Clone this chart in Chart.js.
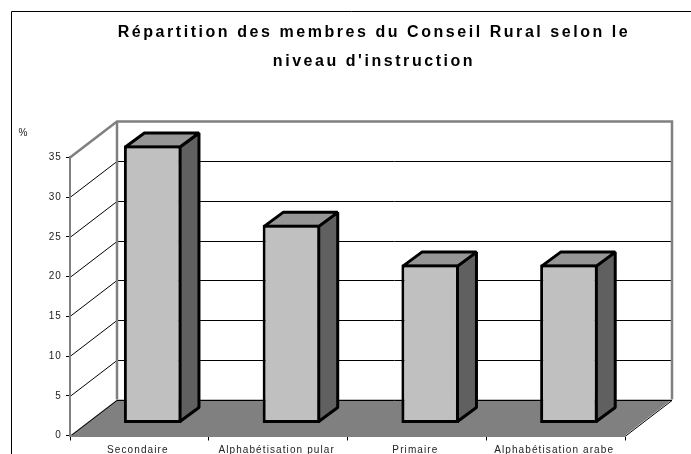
<!DOCTYPE html>
<html><head><meta charset="utf-8">
<style>html,body{margin:0;padding:0;background:#fff;overflow:hidden}#w{width:691px;height:454px;position:relative}</style>
<script src="https://cdn.jsdelivr.net/npm/chart.js@4"></script>
</head><body><div id="w"><canvas id="c"></canvas></div>
<script>
const categories = ["Secondaire", "Alphabétisation pular", "Primaire", "Alphabétisation arabe"];
const values = [35, 25, 20, 20];
const yTicks = [0, 5, 10, 15, 20, 25, 30, 35];
const titleLines = ["Répartition des membres du Conseil Rural selon le", "niveau d'instruction"];
const unitLabel = "%";

const depth = {x: 47, y: -36};
const barShift = {x: 13.3, y: -12};
const barDepth = {x: 19, y: -14};

const scene = {
  id: "scene",
  beforeDraw(chart) {
    const {ctx, scales: {x, y}} = chart;
    const L = x.left, R = x.right, B = y.bottom, T = y.top;
    ctx.save();
    ctx.fillStyle = "#fff";
    ctx.fillRect(0, 0, chart.width, chart.height);
    ctx.strokeStyle = "#000"; ctx.lineWidth = 1;
    ctx.beginPath(); ctx.moveTo(11.5, chart.height); ctx.lineTo(11.5, 11.5); ctx.lineTo(chart.width, 11.5); ctx.stroke();
    ctx.fillStyle = "#808080";
    ctx.beginPath(); ctx.moveTo(L, B); ctx.lineTo(L + depth.x, B + depth.y); ctx.lineTo(R + depth.x, B + depth.y); ctx.lineTo(R, B); ctx.closePath(); ctx.fill();
    ctx.strokeStyle = "#000"; ctx.lineWidth = 1;
    yTicks.forEach(v => {
      const p = Math.round(y.getPixelForValue(v)) + .5;
      ctx.beginPath(); ctx.moveTo(L, p); ctx.lineTo(L + depth.x, p + depth.y); ctx.lineTo(R + depth.x, p + depth.y);
      if (v === 0) ctx.lineTo(R, p);
      ctx.stroke();
    });
    ctx.strokeStyle = "#808080"; ctx.lineWidth = 2.5;
    ctx.beginPath(); ctx.moveTo(L + depth.x, B + depth.y); ctx.lineTo(L + depth.x, T + depth.y); ctx.stroke();
    ctx.beginPath(); ctx.moveTo(L, T); ctx.lineTo(L + depth.x, T + depth.y); ctx.lineTo(R + depth.x, T + depth.y); ctx.lineTo(R + depth.x, B + depth.y); ctx.stroke();
    ctx.fillStyle = "#222"; ctx.font = "10px 'Liberation Sans'"; ctx.textAlign = "center"; ctx.textBaseline = "middle";
    ctx.fillText(unitLabel, 23, 133);
    ctx.restore();
    ctx.letterSpacing = "1.1px";
    if (chart.titleBlock && !chart.titleBlock._w) {
      const orig = chart.titleBlock.draw.bind(chart.titleBlock);
      chart.titleBlock._w = true;
      chart.titleBlock.draw = function () {
        const c = chart.ctx; c.save(); c.letterSpacing = "2.55px"; c.translate(61.5, 0); orig(); c.restore();
      };
      const origLabels = x.drawLabels.bind(x);
      x.drawLabels = function (area) {
        const c = chart.ctx; c.save(); c.translate(-1.5, 0); origLabels(area); c.restore();
      };
    }
  },
  beforeDatasetDraw(chart) {
    const {ctx} = chart;
    ctx.save();
    ctx.translate(barShift.x, barShift.y);
    chart.getDatasetMeta(0).data.forEach(b => {
      const l = b.x - b.width / 2 + 1.5, r = b.x + b.width / 2 - 1.5, t = b.y + 1.5, bt = b.base - 1.5;
      const dx = barDepth.x, dy = barDepth.y;
      ctx.lineWidth = 3; ctx.strokeStyle = "#000"; ctx.lineJoin = "bevel";
      ctx.fillStyle = "#606060";
      ctx.beginPath(); ctx.moveTo(r, t); ctx.lineTo(r + dx, t + dy); ctx.lineTo(r + dx, bt + dy); ctx.lineTo(r, bt); ctx.closePath(); ctx.fill(); ctx.stroke();
      ctx.fillStyle = "#969696";
      ctx.beginPath(); ctx.moveTo(l, t); ctx.lineTo(l + dx, t + dy); ctx.lineTo(r + dx, t + dy); ctx.lineTo(r, t); ctx.closePath(); ctx.fill(); ctx.stroke();
    });
  },
  afterDatasetDraw(chart) { chart.ctx.restore(); }
};

new Chart(document.getElementById("c"), {
  type: "bar",
  data: {labels: categories, datasets: [{
    data: values, backgroundColor: "#c0c0c0", borderColor: "#000", borderWidth: 3,
    borderSkipped: false, clip: false, barPercentage: 0.415, categoryPercentage: 1
  }]},
  options: {
    responsive: true, maintainAspectRatio: false, animation: false, events: [],
    layout: {padding: {left: 0, right: 66, top: 0, bottom: 0}},
    plugins: {
      legend: {display: false}, tooltip: {enabled: false},
      title: {display: true, text: titleLines, color: "#000",
        font: {family: "'Liberation Sans'", size: 16, weight: "bold", lineHeight: 1.81},
        padding: {top: 18.5, bottom: 81}}
    },
    scales: {
      x: {
        grid: {offset: true, drawOnChartArea: false, drawTicks: true, tickLength: 5, color: "#000"},
        border: {color: "#808080", width: 2},
        ticks: {color: "#222", font: {family: "'Liberation Sans'", size: 10}, padding: 4, maxRotation: 0, autoSkip: false},
        afterFit(s) { s.height = 18.5; }
      },
      y: {
        min: 0, max: 35,
        afterBuildTicks(s) { s.ticks = yTicks.map(v => ({value: v})); },
        grid: {drawOnChartArea: false, drawTicks: true, tickLength: 4, color: "#000"},
        border: {color: "#808080", width: 2},
        ticks: {color: "#222", font: {family: "'Liberation Sans'", size: 10}, padding: 4},
        afterFit(s) { s.width = 70; }
      }
    }
  },
  plugins: [scene]
});
</script></body></html>
